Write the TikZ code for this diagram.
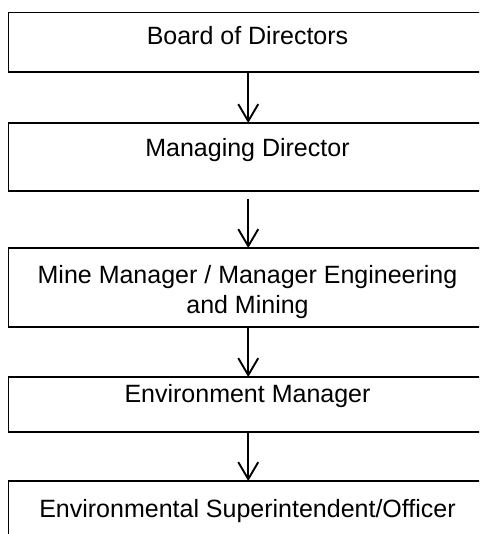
\documentclass[tikz,border=0pt]{standalone}
\usepackage{fontspec}
\setmainfont{Liberation Sans}
\usetikzlibrary{arrows.meta}
\begin{document}
\begin{tikzpicture}[x=1pt,y=-1pt,
  orgbox/.style={draw=black, line width=1.9pt, minimum width=479.5pt, inner sep=0pt, outer sep=0pt},
  label/.style={font=\fontsize{25}{30}\selectfont, align=center, anchor=base, inner sep=0pt},
  link/.style={line width=1.9pt, -{Straight Barb[length=17pt,width=20pt,line width=1.9pt]}}]
\useasboundingbox (0,0) rectangle (479,534);
\clip (0,0) rectangle (479,534);
\node[orgbox, minimum height=59.5pt] (b1) at (248.25,42.25) {};
\node[orgbox, minimum height=68pt] (b2) at (248.25,157) {};
\node[orgbox, minimum height=79pt] (b3) at (248.25,287.5) {};
\node[orgbox, minimum height=55pt] (b4) at (248.25,404.5) {};
\node[orgbox, minimum height=69pt] (b5) at (248.25,515.5) {};
\node[label] (t1) at (247.5,45) {Board of Directors};
\node[label] (t2) at (247.5,157) {Managing Director};
\node[label] (t3) at (247.5,313) {Mine Manager / Manager Engineering\\and Mining};
\node[label] (t4) at (247.5,402) {Environment Manager};
\node[label] (t5) at (247.5,517) {Environmental Superintendent/Officer};
\draw[link] (b1.south) -- (b2.north);
\draw[link, shorten <=8pt] (b2.south) -- (b3.north);
\draw[link] (b3.south) -- (b4.north);
\draw[link] (b4.south) -- (b5.north);
\end{tikzpicture}
\end{document}
